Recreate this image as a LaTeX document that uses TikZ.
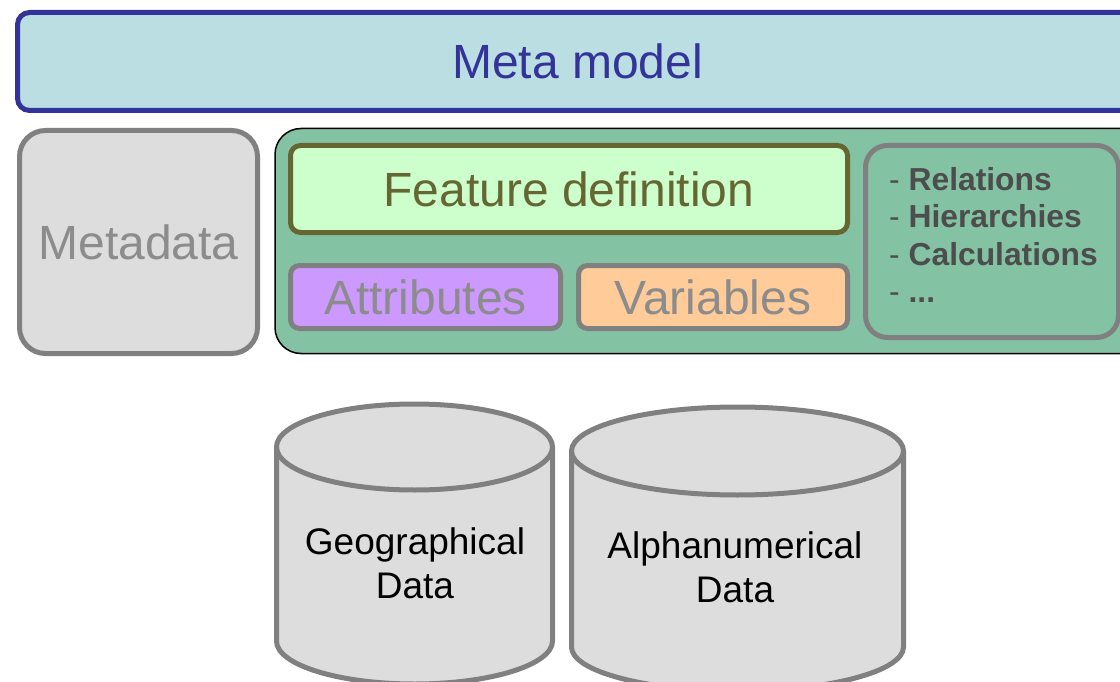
\documentclass[tikz,border=0pt]{standalone}
\usepackage{fontspec}
\setmainfont{Liberation Sans}
\definecolor{metablue}{HTML}{333399}
\definecolor{metafill}{HTML}{BBDEE3}
\definecolor{grayline}{HTML}{808080}
\definecolor{grayfill}{HTML}{DDDDDD}
\definecolor{graytext}{HTML}{8C8C8C}
\definecolor{greenfill}{HTML}{83C2A3}
\definecolor{featfill}{HTML}{CCFFCC}
\definecolor{featline}{HTML}{666633}
\definecolor{attrfill}{HTML}{CC99FF}
\definecolor{varfill}{HTML}{FFCC99}
\definecolor{listtext}{HTML}{4D4D4D}
\begin{document}
\begin{tikzpicture}[x=1pt,y=-1pt,
  box/.style={rectangle, inner sep=0pt, outer sep=0pt},
  bigfont/.style={font=\fontsize{48}{56}\selectfont},
  graybox/.style={box, draw=grayline, line width=5pt, text=graytext, bigfont},
  listitem/.style={anchor=base west, inner sep=0pt, text=listtext, font=\fontsize{31.8}{37}\selectfont},
  cyl/.style={draw=grayline, fill=grayfill, line width=5pt},
  cyltext/.style={align=center, inner sep=0pt, font=\fontsize{37}{44}\selectfont}]
\clip (0,0) rectangle (1120,682);
\fill[white] (0,0) rectangle (1120,682);
% Meta model
\node[box, draw=metablue, fill=metafill, line width=5pt, rounded corners=12pt,
  minimum width=1120pt, minimum height=98pt, text=metablue, bigfont] (meta) at (577.5,61.5) {Meta model};
% Metadata
\node[graybox, fill=grayfill, rounded corners=26pt, minimum width=238pt, minimum height=223pt] (metadata) at (138.5,242) {Metadata};
% Green container
\node[box, draw=black, fill=greenfill, line width=1.5pt, rounded corners=26pt,
  minimum width=872pt, minimum height=225pt] (green) at (711,241) {};
% Feature definition
\node[box, draw=featline, fill=featfill, line width=5pt, rounded corners=10pt,
  minimum width=557pt, minimum height=87pt, text=featline, bigfont] (feature) at (569,189) {Feature definition};
% Attributes / Variables
\node[graybox, fill=attrfill, rounded corners=9pt, minimum width=270pt, minimum height=63pt] (attr) at (425.5,297) {Attributes};
\node[graybox, fill=varfill, rounded corners=9pt, minimum width=269pt, minimum height=63pt] (var) at (713,297) {Variables};
% Right list box
\node[box, draw=grayline, fill=greenfill, line width=5pt, rounded corners=22pt,
  minimum width=253pt, minimum height=192pt] (listbox) at (992,241.5) {};
\node[listitem] (l1) at (889,190) {- \textbf{Relations}};
\node[listitem] (l2) at (889,227.5) {- \textbf{Hierarchies}};
\node[listitem] (l3) at (889,265) {- \textbf{Calculations}};
\node[listitem] (l4) at (889,302.5) {- \textbf{...}};
% Left cylinder
\draw[cyl] (276.5,447) -- (276.5,641) arc[start angle=180,end angle=360,x radius=138pt,y radius=43pt]
  -- (552.5,447) arc[start angle=0,end angle=180,x radius=138pt,y radius=43pt] -- cycle;
\draw[draw=grayline, line width=5pt] (276.5,447) arc[start angle=180,end angle=360,x radius=138pt,y radius=43pt];
\node[cyltext] (geo) at (415,563) {Geographical\\Data};
% Right cylinder
\draw[cyl] (571.5,451) -- (571.5,647) arc[start angle=180,end angle=360,x radius=166pt,y radius=44pt]
  -- (903.5,451) arc[start angle=0,end angle=180,x radius=166pt,y radius=44pt] -- cycle;
\draw[draw=grayline, line width=5pt] (571.5,451) arc[start angle=180,end angle=360,x radius=166pt,y radius=44pt];
\node[cyltext] (alpha) at (735,567) {Alphanumerical\\Data};
\end{tikzpicture}
\end{document}
